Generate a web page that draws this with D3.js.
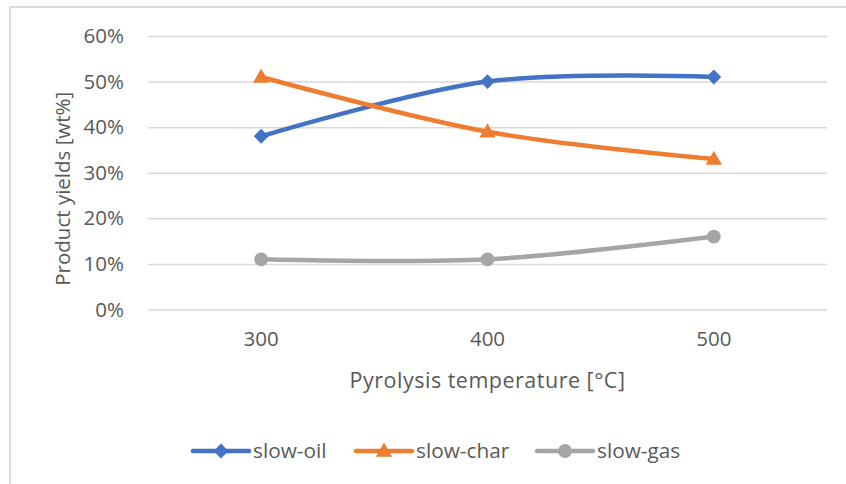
<!DOCTYPE html>
<html>
<head>
<meta charset="utf-8">
<script src="https://cdn.jsdelivr.net/npm/d3@7"></script>
<style>
  html, body { margin: 0; padding: 0; background: #fff; }
  svg { display: block; }
  text { font-family: "Open Sans", "Liberation Sans", sans-serif; fill: #595959; }
</style>
</head>
<body>
<svg id="chart" width="846" height="484"></svg>
<script>
// Pyrolysis product yields by temperature
const temperatures = ["300", "400", "500"];
const slowOil  = [0.38, 0.50, 0.51];
const slowChar = [0.51, 0.39, 0.33];
const slowGas  = [0.11, 0.11, 0.16];
const yTicks = [0, 0.1, 0.2, 0.3, 0.4, 0.5, 0.6];

const series = [
  { name: "slow-oil",  values: slowOil,  color: "#4472C4", marker: "diamond" },
  { name: "slow-char", values: slowChar, color: "#ED7D31", marker: "triangle" },
  { name: "slow-gas",  values: slowGas,  color: "#A5A5A5", marker: "circle" }
];

const svg = d3.select("#chart");
const W = 846, H = 484;
const plot = { left: 148, right: 827, top: 36, bottom: 309.5 };
const FONT = "'Open Sans', 'Liberation Sans', sans-serif";

// chart area frame
svg.append("rect")
  .attr("x", 10).attr("y", 7)
  .attr("width", W).attr("height", H)
  .attr("fill", "#fff")
  .attr("stroke", "#D9D9D9").attr("stroke-width", 2);

const x = d3.scaleBand().domain(temperatures).range([plot.left, plot.right]);
const y = d3.scaleLinear().domain([0, 0.6]).range([plot.bottom, plot.top]);

// horizontal gridlines + y labels
const yAxis = d3.axisLeft(y)
  .tickValues(yTicks)
  .tickFormat(d3.format(".0%"))
  .tickSize(-(plot.right - plot.left))
  .tickPadding(24);
const gy = svg.append("g").attr("transform", `translate(${plot.left},0)`).call(yAxis);
gy.select(".domain").remove();
gy.selectAll(".tick line").attr("stroke", "#D9D9D9").attr("stroke-width", 1.5);
gy.selectAll(".tick text")
  .attr("font-size", 20.5)
  .attr("fill", "#595959")
  .style("font-family", FONT);

// category labels
const xAxis = d3.axisBottom(x).tickSize(0).tickPadding(22);
const gx = svg.append("g").attr("transform", `translate(0,${plot.bottom})`).call(xAxis);
gx.select(".domain").remove();
gx.selectAll(".tick text")
  .attr("font-size", 20.5)
  .attr("fill", "#595959")
  .style("font-family", FONT);

// axis titles
svg.append("text")
  .attr("x", (plot.left + plot.right) / 2).attr("y", 388)
  .attr("text-anchor", "middle")
  .attr("font-size", 21.5)
  .attr("letter-spacing", 0.5)
  .text("Pyrolysis temperature [°C]");

svg.append("text")
  .attr("transform", `translate(70,${(plot.top + plot.bottom) / 2 + 16}) rotate(-90)`)
  .attr("text-anchor", "middle")
  .attr("font-size", 20.5)
  .text("Product yields [wt%]");

// smoothed lines
const cx = d => x(d) + x.bandwidth() / 2;
const line = d3.line()
  .x((d, i) => cx(temperatures[i]))
  .y(d => y(d))
  .curve(d3.curveCardinal.tension(0));

const symbolFor = {
  diamond: d3.symbol().type(d3.symbolSquare).size(110),
  triangle: d3.symbol().type(d3.symbolTriangle).size(115),
  circle: d3.symbol().type(d3.symbolCircle).size(150)
};
const markerTransform = (m, px, py) =>
  m === "diamond" ? `translate(${px},${py}) rotate(45)` :
  m === "triangle" ? `translate(${px},${py + 1})` :
  `translate(${px},${py})`;

series.forEach(s => {
  svg.append("path")
    .datum(s.values)
    .attr("d", line)
    .attr("fill", "none")
    .attr("stroke", s.color)
    .attr("stroke-width", 4.5)
    .attr("stroke-linejoin", "round")
    .attr("stroke-linecap", "round");
  svg.selectAll(null)
    .data(s.values)
    .enter().append("path")
    .attr("d", symbolFor[s.marker]())
    .attr("transform", (d, i) => markerTransform(s.marker, cx(temperatures[i]), y(d)))
    .attr("fill", s.color);
});

// legend
const legendY = 451;
const legendX = [193, 356, 537];
series.forEach((s, i) => {
  const g = svg.append("g").attr("transform", `translate(${legendX[i]},${legendY})`);
  g.append("line")
    .attr("x1", 0).attr("x2", 56).attr("y1", 0).attr("y2", 0)
    .attr("stroke", s.color).attr("stroke-width", 4.5).attr("stroke-linecap", "round");
  g.append("path")
    .attr("d", symbolFor[s.marker]())
    .attr("transform", markerTransform(s.marker, 28, 0))
    .attr("fill", s.color);
  g.append("text")
    .attr("x", 60).attr("y", 0).attr("dy", "0.35em")
    .attr("font-size", 20.8)
    .text(s.name);
});
</script>
</body>
</html>
